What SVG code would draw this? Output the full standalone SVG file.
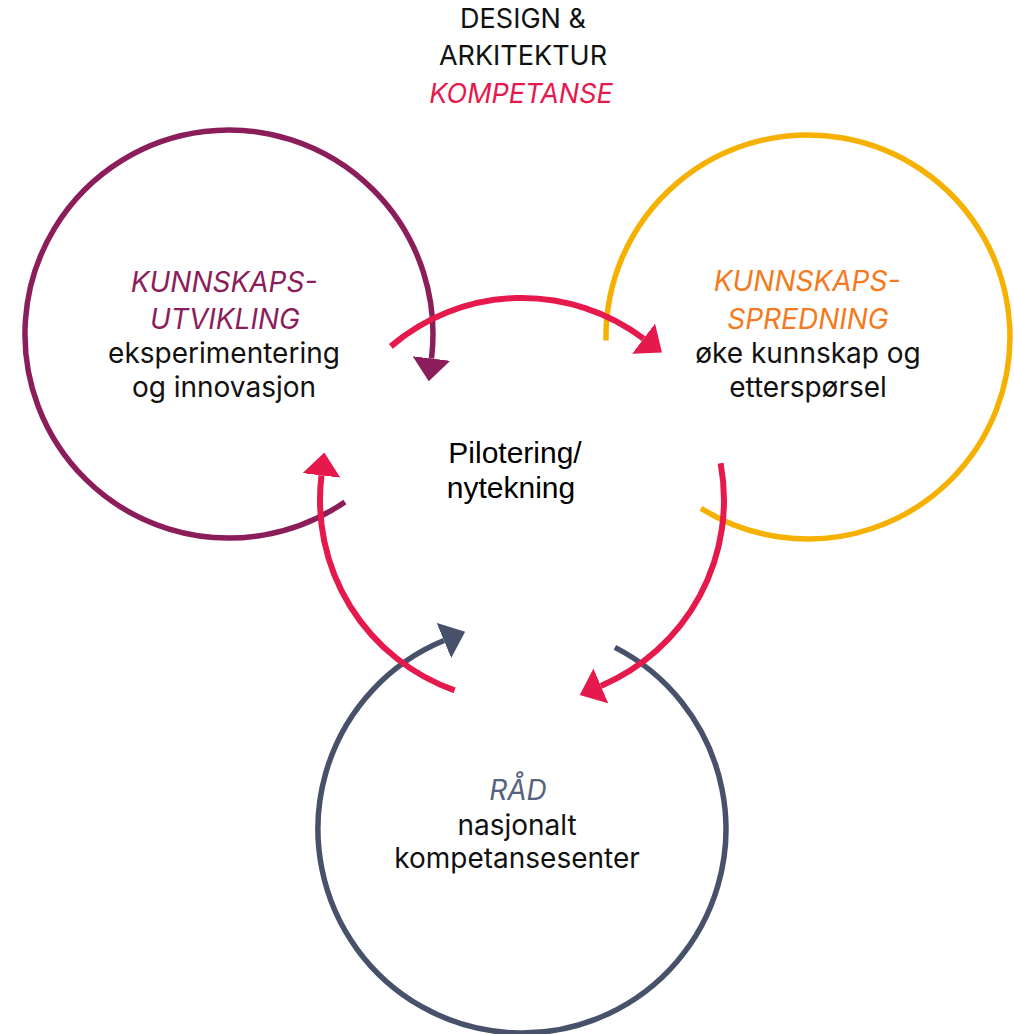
<svg xmlns="http://www.w3.org/2000/svg" width="1014" height="1034" viewBox="0 0 1014 1034">
<style>
.ring{fill:none;stroke-width:5.5;stroke-linecap:butt}
.flow{fill:none;stroke:#E5194C;stroke-width:6;stroke-linecap:butt}
.t{font-family:Inter,"Liberation Sans",sans-serif;font-size:28px;fill:#111;text-anchor:middle}
.ti{font-size:27px}
.h{font-style:italic}
.pu{fill:#8C1D5B}
.or{fill:#F47A20}
.sl{fill:#55637E}
.pk{fill:#E5194C}
.c{font-family:"Liberation Sans",Arial,sans-serif;font-size:30px;fill:#000;text-anchor:middle}
</style>
<defs>
<marker id="ahPink" markerUnits="userSpaceOnUse" viewBox="0 0 23 38" refX="0" refY="19" markerWidth="23" markerHeight="38" orient="auto"><path d="M0,0 L23,19 L0,38 Z" fill="#E5194C"/></marker>
<marker id="ahPurple" markerUnits="userSpaceOnUse" viewBox="0 0 23 38" refX="0" refY="19" markerWidth="23" markerHeight="38" orient="auto"><path d="M0,0 L23,19 L0,38 Z" fill="#8C1D5B"/></marker>
<marker id="ahSlate" markerUnits="userSpaceOnUse" viewBox="0 0 23 38" refX="0" refY="19" markerWidth="23" markerHeight="38" orient="auto"><path d="M0,0 L23,19 L0,38 Z" fill="#47526A"/></marker>
</defs>

<g id="title">
<text class="t ti" x="523" y="28">DESIGN &amp;</text>
<text class="t ti" x="523" y="65">ARKITEKTUR</text>
<text class="t ti h pk" x="521" y="103">KOMPETANSE</text>
</g>

<g id="node-utvikling">
<path class="ring" stroke="#8C1D5B" d="M344.9,501.9 A204,204 0 1 1 431.5,358.5" marker-end="url(#ahPurple)"/>
<text class="t h pu" x="224" y="292">KUNNSKAPS-</text>
<text class="t h pu" x="225" y="329">UTVIKLING</text>
<text class="t" x="224" y="363">eksperimentering</text>
<text class="t" x="224" y="397">og innovasjon</text>
</g>

<g id="node-spredning">
<path class="ring" stroke="#F6B100" d="M606,340.5 A202,202 0 1 1 701,508.3"/>
<text class="t h or" x="807" y="291">KUNNSKAPS-</text>
<text class="t h or" x="808" y="329">SPREDNING</text>
<text class="t" x="808" y="363">øke kunnskap og</text>
<text class="t" x="808" y="397">etterspørsel</text>
</g>

<g id="node-raad">
<path class="ring" stroke="#47526A" d="M614.9,647.4 A204,204 0 1 1 443.9,640.5" marker-end="url(#ahSlate)"/>
<text class="t h sl" x="518" y="800">RÅD</text>
<text class="t" x="517" y="835">nasjonalt</text>
<text class="t" x="517" y="868">kompetansesenter</text>
</g>

<g id="node-center">
<text class="c" x="515" y="463">Pilotering/</text>
<text class="c" x="511" y="498">nytekning</text>
</g>

<g id="connectors">
<path class="flow" d="M390.8,346.4 A202,202 0 0 1 643.6,338.7" marker-end="url(#ahPink)"/>
<path class="flow" d="M720.6,463.2 A202,202 0 0 1 600.9,685.9" marker-end="url(#ahPink)"/>
<path class="flow" d="M454.6,690.4 A202,202 0 0 1 321.5,475.4" marker-end="url(#ahPink)"/>
</g>
</svg>
